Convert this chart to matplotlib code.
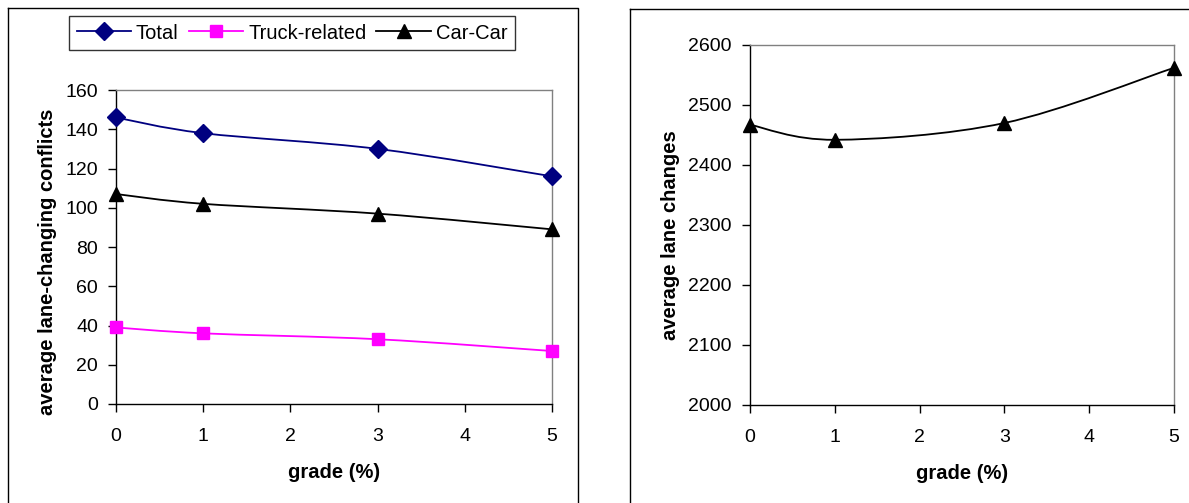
import matplotlib
matplotlib.use("Agg")
import matplotlib.pyplot as plt
from matplotlib.path import Path
from matplotlib.patches import PathPatch
from matplotlib.lines import Line2D

plt.rcParams['font.family'] = ['Liberation Sans', 'DejaVu Sans']

grade = [0, 1, 3, 5]
total = [146, 138, 130, 116]
truck = [39, 36, 33, 27]
carcar = [107, 102, 97, 89]
lane_changes = [2467, 2442, 2470, 2562]

left_yticks = [0, 20, 40, 60, 80, 100, 120, 140, 160]
right_yticks = [2000, 2100, 2200, 2300, 2400, 2500, 2600]
xticks = [0, 1, 2, 3, 4, 5]

W, H = 1189, 503
fig = plt.figure(figsize=(W / 100, H / 100), dpi=100)

TICK_FS = 14
LABEL_FS = 14.5


def smooth_path(xs, ys):
    # Excel-style smoothed line: cubic Bezier segments through the data points
    pts = list(zip(xs, ys))
    n = len(pts)
    verts = [pts[0]]
    codes = [Path.MOVETO]
    for i in range(n - 1):
        p0 = pts[i - 1] if i > 0 else pts[i]
        p1 = pts[i]
        p2 = pts[i + 1]
        p3 = pts[i + 2] if i + 2 < n else pts[i + 1]
        c1 = (p1[0] + (p2[0] - p0[0]) / 6, p1[1] + (p2[1] - p0[1]) / 6)
        c2 = (p2[0] - (p3[0] - p1[0]) / 6, p2[1] - (p3[1] - p1[1]) / 6)
        verts += [c1, c2, p2]
        codes += [Path.CURVE4] * 3
    return Path(verts, codes)


def draw_series(ax, xs, ys, color, marker, ms):
    ax.add_patch(PathPatch(smooth_path(xs, ys), facecolor='none', edgecolor=color,
                           lw=1.3, zorder=3, clip_on=False))
    ax.plot(xs, ys, linestyle='none', marker=marker, color=color, markersize=ms,
            markeredgecolor=color, zorder=4, clip_on=False)


def style_axes(ax):
    for s in ['top', 'right']:
        ax.spines[s].set_color('#808080')
        ax.spines[s].set_linewidth(1.0)
    for s in ['left', 'bottom']:
        ax.spines[s].set_color('black')
        ax.spines[s].set_linewidth(1.0)
    ax.tick_params(direction='out', length=6, width=1, labelsize=TICK_FS)
    ax.tick_params(axis='y', pad=7)
    ax.tick_params(axis='x', pad=11)
    ax.set_xlim(0, 5)
    ax.set_xticks(xticks)
    ax.set_xticklabels([str(t) for t in xticks])
    ax.set_facecolor('white')


# left axes
axL = fig.add_axes([116 / W, 1 - 404 / H, (552 - 116) / W, (404 - 90) / H])
style_axes(axL)
axL.set_ylim(0, 160)
axL.set_yticks(left_yticks)
axL.set_yticklabels([str(t) for t in left_yticks])
draw_series(axL, grade, total, '#000080', 'D', 9)
draw_series(axL, grade, carcar, 'black', '^', 10)
draw_series(axL, grade, truck, '#FF00FF', 's', 9)
axL.set_xlabel('grade (%)', fontsize=LABEL_FS, fontweight='bold', labelpad=13)
axL.set_ylabel('average lane-changing conflicts', fontsize=LABEL_FS, fontweight='bold')
axL.yaxis.set_label_coords(-0.136, 0.452)

handles = [
    Line2D([], [], color='#000080', marker='D', markersize=9, lw=1.3),
    Line2D([], [], color='#FF00FF', marker='s', markersize=9, lw=1.3),
    Line2D([], [], color='black', marker='^', markersize=10, lw=1.3),
]
leg = fig.legend(handles, ['Total', 'Truck-related', 'Car-Car'], loc='center',
                 bbox_to_anchor=(292 / W, 1 - 33 / H), ncol=3, frameon=True,
                 fancybox=False, edgecolor='black', fontsize=14.5,
                 handlelength=2.7, handletextpad=0.25, columnspacing=0.5,
                 borderpad=0.35, borderaxespad=0)
leg.get_frame().set_linewidth(1.0)

# right axes
axR = fig.add_axes([750 / W, 1 - 405 / H, (1174 - 750) / W, (405 - 45) / H])
style_axes(axR)
axR.set_ylim(2000, 2600)
axR.set_yticks(right_yticks)
axR.set_yticklabels([str(t) for t in right_yticks])
draw_series(axR, grade, lane_changes, 'black', '^', 10)
axR.set_xlabel('grade (%)', fontsize=LABEL_FS, fontweight='bold', labelpad=13)
axR.set_ylabel('average lane changes', fontsize=LABEL_FS, fontweight='bold')
axR.yaxis.set_label_coords((680 - 750) / 424, 0.472)

# chart-area frames
def frame(x0, y0, x1, y1):
    xs = [x0 / W, x1 / W, x1 / W, x0 / W, x0 / W]
    ys = [1 - y0 / H, 1 - y0 / H, 1 - y1 / H, 1 - y1 / H, 1 - y0 / H]
    fig.add_artist(Line2D(xs, ys, color='black', lw=1.0, transform=fig.transFigure))

frame(8, 8, 578, 520)
frame(630, 9, 1200, 520)

fig.savefig('out.png', dpi=100)
